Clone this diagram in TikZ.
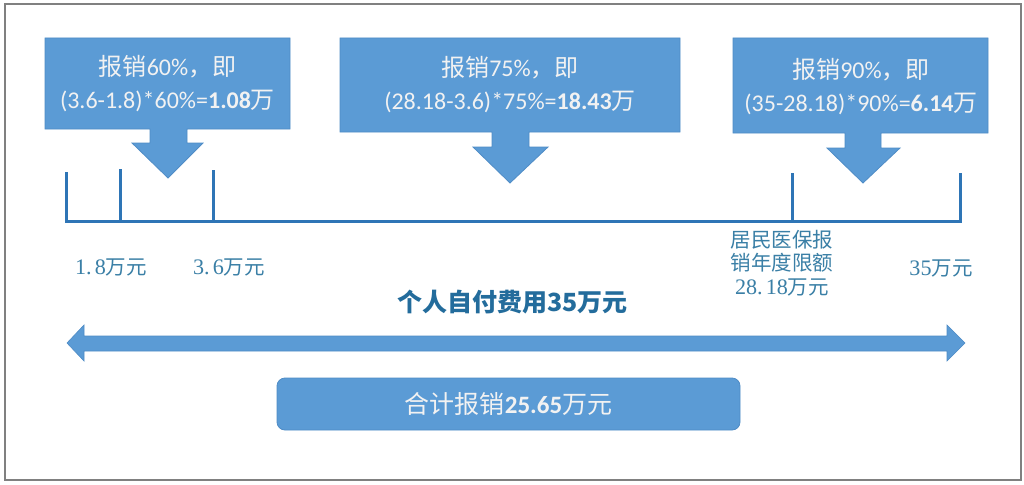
\documentclass[tikz,border=0pt]{standalone}
\usepackage{fontspec}
\setmainfont{Carlito}
\newfontfamily\cjk{Noto Sans CJK SC}
\newfontfamily\lserif[Scale=1.08]{Liberation Serif}
\definecolor{boxblue}{HTML}{5B9BD5}
\definecolor{boxedge}{HTML}{4F8CC6}
\definecolor{tickblue}{HTML}{2E75B6}
\definecolor{labelblue}{HTML}{3A7FA6}
\definecolor{titleblue}{HTML}{236C9C}
\definecolor{frame}{HTML}{808080}
\definecolor{boxtext}{HTML}{F2F2F2}
\tikzset{
  callout/.style={fill=boxblue, draw=boxedge, line width=0.8pt, line join=miter},
  calltext/.style={text=boxtext, align=center, font=\fontsize{24}{33}\selectfont, inner sep=0pt},
  tickline/.style={draw=tickblue, line width=3pt},
  axislabel/.style={text=labelblue, align=center, font=\fontsize{20.5}{23.5}\selectfont, inner sep=0pt},
}
\begin{document}
\begin{tikzpicture}[x=1pt,y=-1pt]
\useasboundingbox (0,0) rectangle (1024,484);
\fill[white] (0,0) rectangle (1024,484);
\draw[frame, line width=2pt] (5,4) rectangle (1021,480);

% callout 1
\draw[callout] (45,38) -- (290,38) -- (290,129) -- (187,129) -- (187,143) -- (203,143)
  -- (168,178) -- (132,143) -- (150,143) -- (150,129) -- (45,129) -- cycle;
\node[calltext] (t1) at (167.5,84) {{\cjk 报销}60\%{\cjk ，即}\\(3.6-1.8)*60\%=\textbf{1.08}{\cjk 万}};

% callout 2
\draw[callout] (340,38) -- (680,38) -- (680,132) -- (529,132) -- (529,147) -- (548,147)
  -- (510,183) -- (473,147) -- (492,147) -- (492,132) -- (340,132) -- cycle;
\node[calltext] (t2) at (510,85) {{\cjk 报销}75\%{\cjk ，即}\\(28.18-3.6)*75\%=\textbf{18.43}{\cjk 万}};

% callout 3
\draw[callout] (733,38) -- (988,38) -- (988,133) -- (881,133) -- (881,148) -- (900,148)
  -- (863,183) -- (827,148) -- (845,148) -- (845,133) -- (733,133) -- cycle;
\node[calltext] (t3) at (861,87) {{\cjk 报销}90\%{\cjk ，即}\\(35-28.18)*90\%=\textbf{6.14}{\cjk 万}};

% axis
\coordinate (a0) at (66,221);
\coordinate (a5) at (960,221);
\draw[tickline] (66,172) -- (a0) -- (a5) -- (960,173);
\draw[tickline] (120,169) -- (120,221);
\draw[tickline] (213,170) -- (213,221);
\draw[tickline] (792,173) -- (792,221);

% axis labels
\node[axislabel] (l1) at (111,267) {{\lserif 1.\kern3pt 8}{\cjk 万元}};
\node[axislabel] (l2) at (229,267) {{\lserif 3.\kern3pt 6}{\cjk 万元}};
\node[axislabel] (l3) at (782,263) {{\cjk 居民医保报}\\{\cjk 销年度限额}\\{\lserif 28.\kern3pt 18}{\cjk 万元}};
\node[axislabel] (l4) at (941,268) {{\lserif 35}{\cjk 万元}};

% title
\node[text=titleblue, inner sep=0pt, font=\fontsize{25}{30}\selectfont\cjk\bfseries] (title) at (512.5,302) {个人自付费用35万元};

% double arrow
\draw[fill=boxblue, draw=boxedge, line width=0.6pt] (67,343) -- (84,325) -- (84,336) -- (947,336) -- (947,325)
  -- (965,343) -- (947,361) -- (947,351) -- (84,351) -- (84,361) -- cycle;

% total box
\node[fill=boxblue, draw=boxedge, line width=0.8pt, rounded corners=8pt, minimum width=463pt, minimum height=52pt,
  text=boxtext, font=\fontsize{25}{30}\selectfont, inner sep=0pt] (total) at (508.5,404)
  {{\cjk 合计报销}\textbf{25.65}{\cjk 万元}};
\end{tikzpicture}
\end{document}
